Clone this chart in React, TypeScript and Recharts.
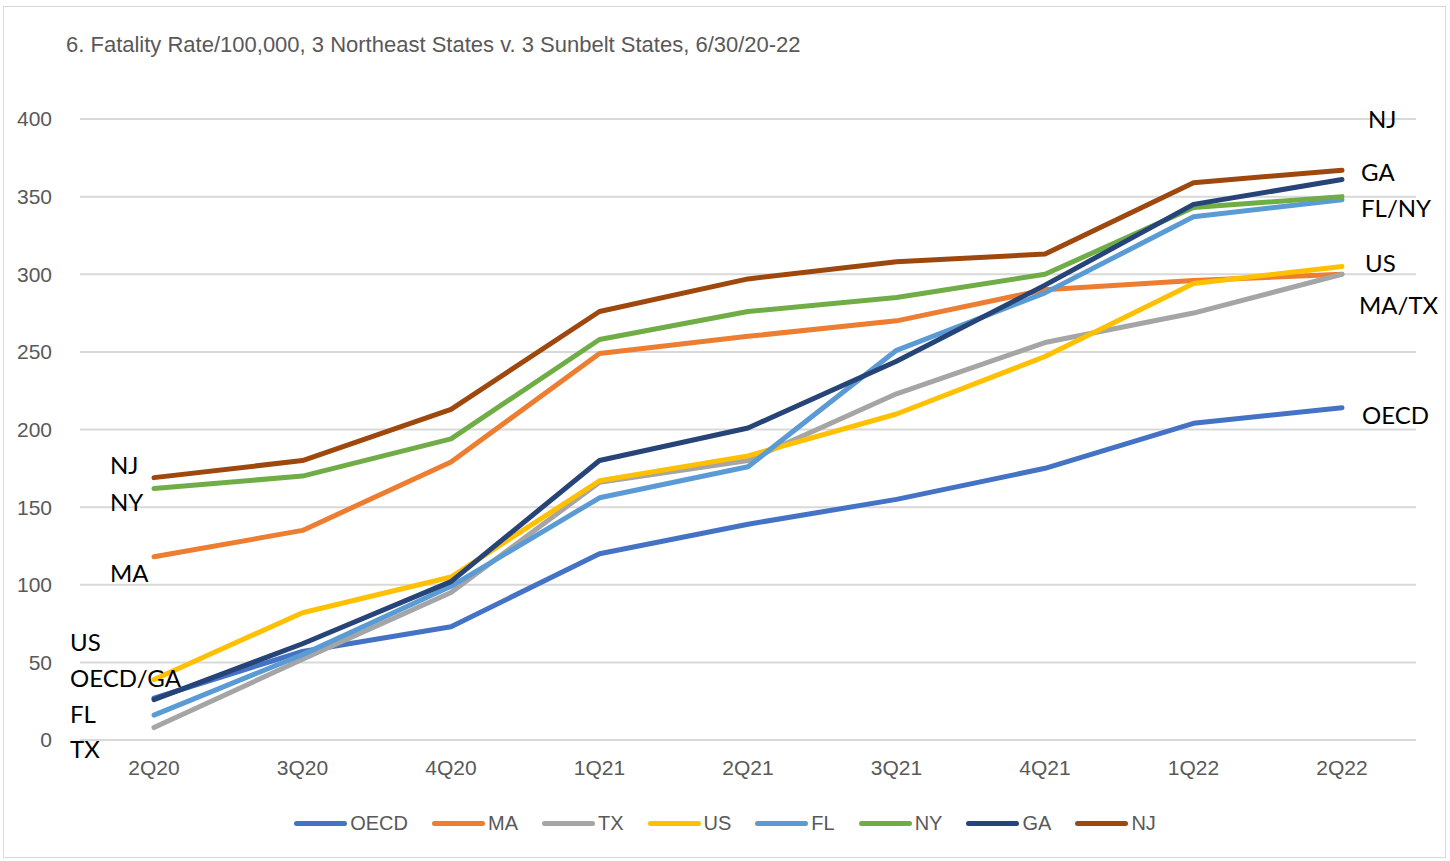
import React from 'react';
import { LineChart, Line, XAxis, YAxis, CartesianGrid } from 'recharts';

const quarters = ['2Q20', '3Q20', '4Q20', '1Q21', '2Q21', '3Q21', '4Q21', '1Q22', '2Q22'];

const oecd = [27, 57, 73, 120, 139, 155, 175, 204, 214];
const ma = [118, 135, 179, 249, 260, 270, 290, 296, 300];
const tx = [8, 52, 95, 166, 180, 223, 256, 275, 300];
const us = [39, 82, 105, 167, 183, 210, 247, 294, 305];
const fl = [16, 55, 99, 156, 176, 251, 288, 337, 348];
const ny = [162, 170, 194, 258, 276, 285, 300, 343, 350];
const ga = [26, 62, 102, 180, 201, 244, 293, 345, 361];
const nj = [169, 180, 213, 276, 297, 308, 313, 359, 367];

const yTicks = [0, 50, 100, 150, 200, 250, 300, 350, 400];

const series = [
  { key: 'OECD', values: oecd, color: '#4472C4' },
  { key: 'MA', values: ma, color: '#ED7D31' },
  { key: 'TX', values: tx, color: '#A5A5A5' },
  { key: 'US', values: us, color: '#FFC000' },
  { key: 'FL', values: fl, color: '#5B9BD5' },
  { key: 'NY', values: ny, color: '#70AD47' },
  { key: 'GA', values: ga, color: '#264478' },
  { key: 'NJ', values: nj, color: '#9E480E' },
];

// hand-placed annotations, as in the original sheet
const leftNotes = [
  { text: 'NJ', x: 110, y: 465 },
  { text: 'NY', x: 110, y: 502 },
  { text: 'MA', x: 110, y: 573 },
  { text: 'US', x: 70, y: 642 },
  { text: 'OECD/GA', x: 70, y: 678 },
  { text: 'FL', x: 70, y: 714 },
  { text: 'TX', x: 70, y: 749 },
];
const rightNotes = [
  { text: 'NJ', x: 1368, y: 119 },
  { text: 'GA', x: 1361, y: 172 },
  { text: 'FL/NY', x: 1361, y: 208 },
  { text: 'US', x: 1365, y: 263 },
  { text: 'MA/TX', x: 1359, y: 305 },
  { text: 'OECD', x: 1362, y: 415 },
];

const data = quarters.map((q, i) => {
  const row: Record<string, string | number> = { quarter: q };
  series.forEach((s) => {
    row[s.key] = s.values[i];
  });
  return row;
});

const axisFont = '"Liberation Sans", Arial, sans-serif';
const noteFont = 'Lato, "Noto Sans", sans-serif';

export default function App() {
  return (
    <div style={{ position: 'absolute', left: 0, top: 0, width: 1450, height: 861, background: '#fff' }}>
      <div
        style={{
          position: 'absolute',
          left: 3,
          top: 6,
          width: 1441,
          height: 850,
          border: '1px solid #d9d9d9',
        }}
      />
      <div
        style={{
          position: 'absolute',
          left: 66,
          top: 32,
          fontFamily: axisFont,
          fontSize: 22,
          color: '#595959',
          whiteSpace: 'nowrap',
        }}
      >
        6. Fatality Rate/100,000, 3 Northeast States v. 3 Sunbelt States, 6/30/20-22
      </div>
      <LineChart
        width={1450}
        height={861}
        data={data}
        margin={{ top: 119, right: 34, bottom: 91, left: 20 }}
        style={{ position: 'absolute', left: 0, top: 0 }}
      >
        <CartesianGrid vertical={false} stroke="#d9d9d9" strokeWidth={2} />
        <XAxis
          dataKey="quarter"
          height={30}
          padding={{ left: 74, right: 74 }}
          axisLine={false}
          tickLine={false}
          tickSize={0}
          tickMargin={20}
          tick={{ fill: '#595959', fontSize: 21, fontFamily: axisFont }}
        />
        <YAxis
          width={60}
          domain={[0, 400]}
          ticks={yTicks}
          axisLine={false}
          tickLine={false}
          tickSize={0}
          tickMargin={28}
          tick={{ fill: '#595959', fontSize: 21, fontFamily: axisFont }}
        />
        {series.map((s) => (
          <Line
            key={s.key}
            dataKey={s.key}
            stroke={s.color}
            strokeWidth={5}
            strokeLinecap="round"
            strokeLinejoin="round"
            dot={false}
            activeDot={false}
            isAnimationActive={false}
          />
        ))}
      </LineChart>
      {[...leftNotes, ...rightNotes].map((n, i) => (
        <div
          key={i}
          style={{
            position: 'absolute',
            left: n.x,
            top: n.y - 14,
            lineHeight: '28px',
            fontFamily: noteFont,
            fontSize: 24,
            color: '#000',
            whiteSpace: 'nowrap',
          }}
        >
          {n.text}
        </div>
      ))}
      <div
        style={{
          position: 'absolute',
          left: 0,
          top: 812,
          width: 1450,
          display: 'flex',
          justifyContent: 'center',
          gap: 24,
          fontFamily: axisFont,
          fontSize: 20,
          color: '#595959',
        }}
      >
        {series.map((s) => (
          <div key={s.key} style={{ display: 'flex', alignItems: 'center', gap: 3 }}>
            <div style={{ width: 53, height: 5, borderRadius: 3, background: s.color }} />
            <span>{s.key}</span>
          </div>
        ))}
      </div>
    </div>
  );
}
